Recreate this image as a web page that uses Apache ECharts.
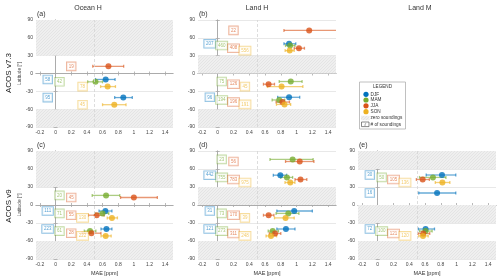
<!DOCTYPE html>
<html><head><meta charset="utf-8">
<script src="https://cdn.jsdelivr.net/npm/echarts@6/dist/echarts.min.js"></script>
<style>html,body{margin:0;padding:0;background:#fff}#c{width:500px;height:278px}</style>
</head><body><div id="c"></div>
<script>
const seasons = ['DJF','MAM','JJA','SON'];
const columnTitles = ['Ocean H','Land H','Land M'];
const rowTitles = ['ACOS v7.3','ACOS v9'];
const panelLetters = ['(a)','(b)','(c)','(d)','(e)'];
const xTicks = [-0.2,0,0.2,0.4,0.6,0.8,1,1.2,1.4];
const yTicks = [-90,-60,-30,0,30,60,90];
const legendItems = ['DJF','MAM','JJA','SON','zero soundings','# of soundings'];

// each entry: [MAE, latitude, error low, error high, # of soundings]
const a_DJF = [[0.64,-10,0.51,0.76,58],[0.865,-40.5,0.755,0.98,95]];
const a_MAM = [[0.51,-14,0.41,0.60,42]];
const a_JJA = [[0.675,12,0.475,0.87,19]];
const a_SON = [[0.665,-22,0.575,0.765,78],[0.75,-52.5,0.60,0.90,45]];
const a_zero = [[30,90],[-90,-60]];

const b_DJF = [[0.905,50,0.84,0.99,207],[0.905,-40,0.76,1.04,96]];
const b_MAM = [[0.918,47,0.86,0.98,460],[0.926,-13.5,0.78,1.07,75],[0.78,-44.5,0.69,0.85,194]];
const b_JJA = [[1.16,72.5,0.84,1.55,22],[1.03,42.5,0.97,1.10,408],[0.645,-18,0.58,0.72,126],[0.82,-48,0.74,0.91,196]];
const b_SON = [[0.913,38.5,0.855,0.97,556],[0.81,-22,0.63,1.08,45],[0.847,-52,0.745,0.925,191]];
const b_zero = [[0,30],[-90,-60]];

const c_DJF = [[0.636,-10,0.555,0.72,111],[0.65,-40,0.58,0.72,223]];
const c_MAM = [[0.645,16,0.468,0.82,20],[0.60,-14,0.50,0.68,71],[0.44,-43.5,0.367,0.515,61]];
const c_JJA = [[1.0,12.5,0.83,1.30,45],[0.525,-17,0.42,0.62,55],[0.458,-47,0.34,0.58,28]];
const c_SON = [[0.72,-21.5,0.66,0.79,130],[0.64,-51.5,0.58,0.71,222]];
const c_zero = [[30,90],[-90,-60]];

const d_DJF = [[0.794,49.7,0.705,0.874,442],[0.97,-10,0.75,1.20,31],[0.865,-40,0.75,0.98,121]];
const d_MAM = [[0.95,76,0.663,1.21,23],[0.878,46,0.80,0.95,755],[0.895,-14,0.74,1.03,73],[0.697,-43.5,0.64,0.77,273]];
const d_JJA = [[1.04,72.5,0.86,1.22,56],[1.05,42.5,0.98,1.13,783],[0.646,-17,0.58,0.713,170],[0.727,-47.5,0.655,0.80,311]];
const d_SON = [[0.92,37.5,0.853,0.979,975],[0.86,-21.5,0.72,0.97,39],[0.676,-51.5,0.613,0.747,248]];
const d_zero = [[0,30],[-90,-60]];

const e_DJF = [[0.815,50,0.615,0.99,30],[0.753,20,0.52,0.99,16],[0.607,-40,0.515,0.72,72]];
const e_MAM = [[0.70,46,0.53,0.865,50],[0.607,-43.5,0.53,0.69,100]];
const e_JJA = [[0.57,42.5,0.49,0.655,105],[0.578,-47.5,0.51,0.66,121]];
const e_SON = [[0.82,37.5,0.73,0.915,136],[0.574,-51.5,0.52,0.64,120]];
const e_zero = [[60,90],[-30,0],[-90,-60]];

// ---- styling / layout ----
const FONT = 'Liberation Sans, Arial, sans-serif';
const colors = {DJF:[0,114,189], MAM:[119,172,48], JJA:[217,83,25], SON:[237,177,32]};
const rgba = (c,a) => `rgba(${c[0]},${c[1]},${c[2]},${a})`;
const boxX = {DJF:-0.1, MAM:0.05, JJA:0.2, SON:0.345};
const grids = [
  {left:36, top:20, width:137, height:107},
  {left:198, top:20, width:138, height:107},
  {left:36, top:151, width:137, height:108},
  {left:198, top:151, width:138, height:108},
  {left:358, top:151, width:138, height:108}
];
const panels = [
  {DJF:a_DJF, MAM:a_MAM, JJA:a_JJA, SON:a_SON, zero:a_zero, ylab:true, xlab:false},
  {DJF:b_DJF, MAM:b_MAM, JJA:b_JJA, SON:b_SON, zero:b_zero, ylab:false, xlab:false},
  {DJF:c_DJF, MAM:c_MAM, JJA:c_JJA, SON:c_SON, zero:c_zero, ylab:true, xlab:true},
  {DJF:d_DJF, MAM:d_MAM, JJA:d_JJA, SON:d_SON, zero:d_zero, ylab:false, xlab:true},
  {DJF:e_DJF, MAM:e_MAM, JJA:e_JJA, SON:e_SON, zero:e_zero, ylab:false, xlab:true}
];

// hatch pattern for "zero soundings"
const hc = document.createElement('canvas');
hc.width = 3; hc.height = 3;
const hx = hc.getContext('2d');
hx.fillStyle = '#efefef'; hx.fillRect(0,0,3,3);
hx.fillStyle = '#e4e4e4';
hx.fillRect(0,2,1,1); hx.fillRect(1,1,1,1); hx.fillRect(2,0,1,1);
const hatch = {image: hc, repeat: 'repeat'};

const tickFmt = v => String(Math.round(v*10)/10);
const xAxes = [], yAxes = [], series = [];
const axisLine = {show:true, lineStyle:{color:'#a8a8a8', width:0.8}};
const axisTick = {show:true, inside:true, length:2, lineStyle:{color:'#a8a8a8', width:0.8}};

grids.forEach((g, i) => {
  const p = panels[i];
  xAxes.push({type:'value', gridIndex:i, min:-0.25, max:1.5, position:'bottom',
    axisLine, axisTick:{...axisTick, customValues:xTicks},
    axisLabel:{customValues:xTicks, formatter:tickFmt, fontSize:5, color:'#444', fontFamily:FONT, margin:3},
    splitLine:{show:false},
    name: p.xlab ? 'MAE [ppm]' : '', nameLocation:'middle', nameGap:11,
    nameTextStyle:{fontSize:5.5, color:'#333', fontFamily:FONT}});
  xAxes.push({type:'value', gridIndex:i, min:-0.25, max:1.5, position:'top',
    axisLine, axisTick:{...axisTick, customValues:xTicks}, axisLabel:{show:false}, splitLine:{show:false}});
  yAxes.push({type:'value', gridIndex:i, min:-90, max:90, interval:30, position:'left',
    axisLine, axisTick,
    axisLabel:{fontSize:5, color:'#444', fontFamily:FONT, margin:3},
    splitLine:{show:true, lineStyle:{color:'#e2e2e2', width:0.8}},
    name: p.ylab ? 'Latitude [°]' : '', nameLocation:'middle', nameGap:11, nameRotate:90,
    nameTextStyle:{fontSize:4.8, color:'#444', fontFamily:FONT}});
  yAxes.push({type:'value', gridIndex:i, min:-90, max:90, interval:30, position:'right',
    axisLine, axisTick, axisLabel:{show:false}, splitLine:{show:false}});
  const xi = i*2, yi = i*2;
  // zero-soundings bands and the 0.5 reference line
  series.push({type:'scatter', xAxisIndex:xi, yAxisIndex:yi, data:[], z:1, silent:true,
    markArea:{silent:true, itemStyle:{color:hatch},
      data: p.zero.map(b => [{yAxis:b[0]}, {yAxis:b[1]}])},
    markLine:{silent:true, symbol:'none', label:{show:false},
      lineStyle:{color:'#d4d4d4', type:[3,2], width:0.8}, data:[{xAxis:0.5}]}});
  seasons.forEach(s => {
    const arr = p[s];
    const col = colors[s];
    series.push({type:'custom', xAxisIndex:xi, yAxisIndex:yi, z:3, silent:true,
      data: arr.map(d => [d[2], d[3], d[1]]),
      encode:{x:[0,1], y:2},
      renderItem:(params, api) => {
        const cs = params.coordSys;
        const p1 = api.coord([api.value(0), api.value(2)]);
        const p2 = api.coord([api.value(1), api.value(2)]);
        const x1 = Math.max(p1[0], cs.x), x2 = Math.min(p2[0], cs.x + cs.width);
        const st = {stroke: rgba(col,0.6), lineWidth:1.3};
        const ch = [{type:'line', shape:{x1, y1:p1[1], x2, y2:p1[1]}, style:st}];
        if (p1[0] >= cs.x) ch.push({type:'line', shape:{x1:p1[0], y1:p1[1]-1.5, x2:p1[0], y2:p1[1]+1.5}, style:st});
        if (p2[0] <= cs.x + cs.width) ch.push({type:'line', shape:{x1:p2[0], y1:p2[1]-1.5, x2:p2[0], y2:p2[1]+1.5}, style:st});
        return {type:'group', children:ch};
      }});
    series.push({type:'scatter', xAxisIndex:xi, yAxisIndex:yi, z:4, silent:true,
      data: arr.map(d => [d[0], d[1]]), symbolSize:6,
      itemStyle:{color:rgba(col,1)}});
    series.push({type:'scatter', xAxisIndex:xi, yAxisIndex:yi, z:4, silent:true,
      data: arr.map(d => [boxX[s], d[1], d[4]]), symbolSize:0.1,
      itemStyle:{color:'rgba(0,0,0,0)'},
      label:{show:true, position:'inside', formatter: q => String(q.value[2]),
        fontSize:4.5, lineHeight:5, fontFamily:FONT, color:rgba(col,0.85),
        borderColor:rgba(col,0.55), borderWidth:0.9, padding:[1.6,1.8,1.2,1.8],
        backgroundColor:'rgba(255,255,255,0.9)'}});
  });
});

// text + legend graphics
const graphic = [];
const titleX = [88, 257, 420];
columnTitles.forEach((t, i) => graphic.push({type:'text', x:titleX[i], y:8,
  style:{text:t, fontSize:7, fill:'#333', font:`7px ${FONT}`, align:'center', verticalAlign:'middle'}}));
const letterPos = [[37,14],[199,14],[37,145],[199,145],[359,145]];
panelLetters.forEach((t, i) => graphic.push({type:'text', x:letterPos[i][0], y:letterPos[i][1],
  style:{text:t, font:`7px ${FONT}`, fill:'#333', align:'left', verticalAlign:'middle'}}));
const rowY = [73, 206];
rowTitles.forEach((t, i) => graphic.push({type:'text', x:9, y:rowY[i], rotation:Math.PI/2,
  style:{text:t, font:`8px ${FONT}`, fill:'#222', align:'center', verticalAlign:'middle'}}));

const lg = [];
lg.push({type:'rect', shape:{x:359.5, y:82, width:46, height:47}, style:{fill:'#fff', stroke:'#b0b0b0', lineWidth:0.8}});
lg.push({type:'text', x:382.5, y:86.5, style:{text:'LEGEND', font:`4.6px ${FONT}`, fill:'#333', align:'center', verticalAlign:'middle'}});
const ly = [94.3, 100, 105.8, 111.7, 118, 124.3];
seasons.forEach((s, k) => {
  lg.push({type:'circle', shape:{cx:366, cy:ly[k], r:2.6}, style:{fill:rgba(colors[s],1)}});
});
lg.push({type:'rect', shape:{x:361, y:ly[4]-2.2, width:8.5, height:4.4}, style:{fill:hatch}});
lg.push({type:'rect', shape:{x:361.5, y:ly[5]-2.3, width:7.5, height:4.6}, style:{fill:'#fff', stroke:'#555', lineWidth:0.7}});
lg.push({type:'text', x:365.25, y:ly[5]+0.2, style:{text:'#', font:`3.8px ${FONT}`, fill:'#333', align:'center', verticalAlign:'middle'}});
legendItems.forEach((t, k) => lg.push({type:'text', x:370.5, y:ly[k],
  style:{text:t, font:`4.7px ${FONT}`, fill:'#333', align:'left', verticalAlign:'middle'}}));
graphic.push(...lg);

const chart = echarts.init(document.getElementById('c'), null, {renderer:'canvas'});
chart.setOption({
  animation:false,
  backgroundColor:'#fff',
  textStyle:{fontFamily:FONT},
  grid: grids.map(g => ({...g, containLabel:false})),
  xAxis: xAxes, yAxis: yAxes, series, graphic
});
</script></body></html>
